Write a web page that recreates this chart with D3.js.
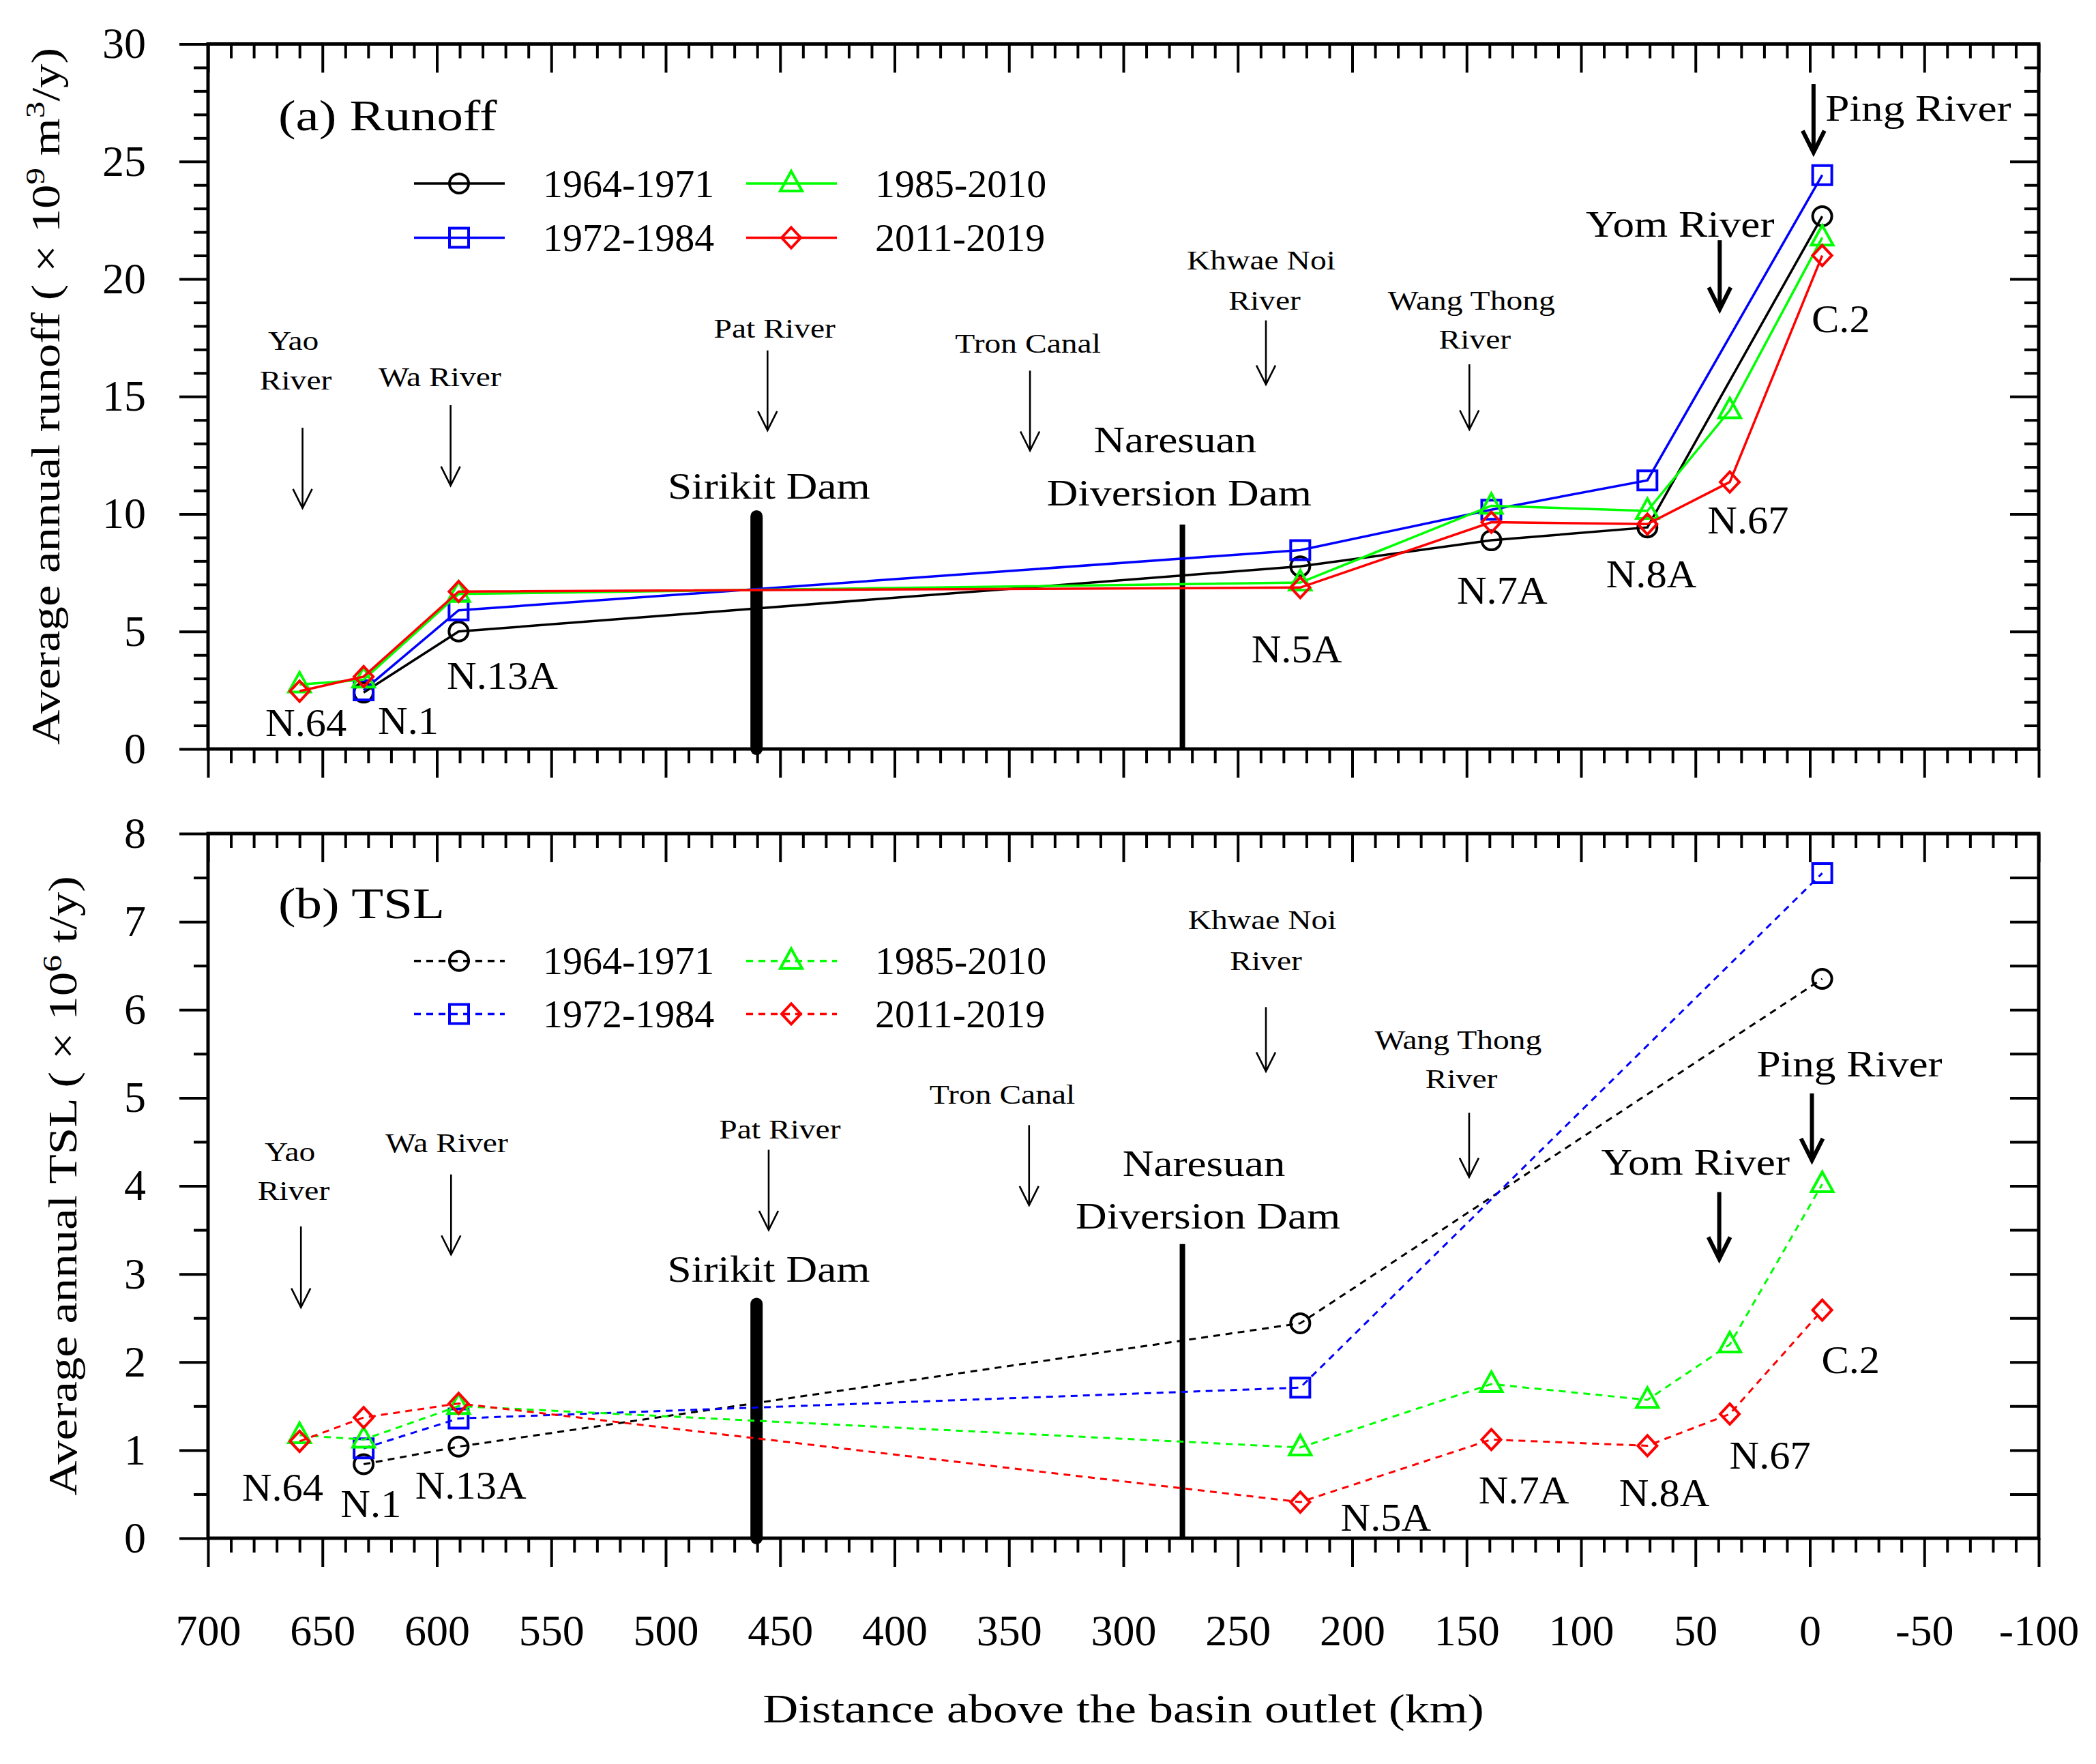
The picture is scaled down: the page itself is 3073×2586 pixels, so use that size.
<!DOCTYPE html>
<html>
<head>
<meta charset="utf-8">
<script src="https://cdn.jsdelivr.net/npm/d3@7"></script>
<style>
  body { margin: 0; background: #fff; }
  svg { display: block; }
  text { font-family: 'Liberation Serif', 'Times New Roman', serif; fill: #000; }
</style>
</head>
<body>
<div id="chart"></div>
<script>
// ---- data ----
const stationNames = ['N.64', 'N.1', 'N.13A', 'N.5A', 'N.7A', 'N.8A', 'N.67', 'C.2']
const stationKm = [660, 632, 590.5, 222.7, 139.2, 71, 35, -5.4]
const periods = ['1964-1971', '1972-1984', '1985-2010', '2011-2019']

// runoff (x 10^9 m3/y), null = no record
const runoff1964 = [null, 2.4, 5.0, 7.77, 8.88, 9.43, null, 22.67]
const runoff1972 = [null, 2.5, 5.9, 8.46, 10.18, 11.43, null, 24.42]
const runoff1985 = [2.74, 2.95, 6.6, 7.08, 10.35, 10.13, 14.41, 21.76]
const runoff2011 = [2.46, 3.08, 6.7, 6.87, 9.65, 9.57, 11.36, 21.0]

// TSL (x 10^6 t/y)
const tsl1964 = [null, 0.84, 1.04, 2.44, null, null, null, 6.35]
const tsl1972 = [null, 1.02, 1.36, 1.71, null, null, null, 7.55]
const tsl1985 = [1.17, 1.12, 1.5, 1.03, 1.75, 1.57, 2.2, 4.02]
const tsl2011 = [1.1, 1.37, 1.53, 0.41, 1.12, 1.05, 1.41, 2.59]

const xTicks = d3.range(700, -101, -50)
const dams = ['Sirikit Dam', 'Naresuan Diversion Dam']
const damKm = [460.3, 274.2]

// ---- layout ----
const W = 3073
const H = 2586
const colors = ['#000000', '#0000ff', '#00ff00', '#ff0000']
const shapes = ['circle', 'square', 'triangle', 'diamond']

const svg = d3.select('#chart').append('svg')
  .attr('width', W)
  .attr('height', H)

const x = d3.scaleLinear().domain([700, -100]).range([305, 2989])

// text helper: Palatino-like width from a stretched serif
function label (g, str, px, py, size, sx, anchor) {
  return g.append('text')
    .attr('transform', 'translate(' + px + ',' + py + ') scale(' + sx + ',1)')
    .attr('text-anchor', anchor || 'middle')
    .attr('dy', '0.34em')
    .style('font-size', size + 'px')
    .text(str)
}

function markerPath (shape) {
  const p = d3.path()
  if (shape === 'circle') {
    p.moveTo(14, 0)
    p.arc(0, 0, 14, 0, 2 * Math.PI)
  } else if (shape === 'square') {
    p.rect(-14, -14, 28, 28)
  } else if (shape === 'triangle') {
    p.moveTo(0, -18); p.lineTo(16, 11); p.lineTo(-16, 11); p.closePath()
  } else {
    p.moveTo(0, -15); p.lineTo(14, 0); p.lineTo(0, 15); p.lineTo(-14, 0); p.closePath()
  }
  return p.toString()
}

function arrow (g, km, v1, v2, y, thick) {
  const px = x(km)
  const y1 = y(v1)
  const y2 = y(v2)
  const hw = thick ? 16 : 14
  const hl = thick ? 32 : 28
  const sw = thick ? 6 : 2.6
  g.append('line')
    .attr('x1', px).attr('x2', px)
    .attr('y1', y1).attr('y2', y2 - 2)
    .attr('stroke', '#000').attr('stroke-width', sw)
  g.append('path')
    .attr('d', 'M' + (px - hw) + ',' + (y2 - hl) + 'L' + px + ',' + y2 + 'L' + (px + hw) + ',' + (y2 - hl))
    .attr('fill', 'none').attr('stroke', '#000').attr('stroke-width', sw)
}

function drawPanel (cfg) {
  const y = cfg.y
  const g = svg.append('g')
  const [y0, y1] = y.range()
  const xMinor = d3.range(700, -101, -10).filter(d => d % 50 !== 0)

  // frame
  g.append('rect')
    .attr('x', x(700)).attr('y', y1)
    .attr('width', x(-100) - x(700)).attr('height', y0 - y1)
    .attr('fill', 'none').attr('stroke', '#000').attr('stroke-width', 5)

  const axes = [
    ['bottom', d3.axisBottom(x).tickValues(xTicks).tickSize(42)
      .tickFormat(cfg.xLabels ? d => String(d) : '').tickPadding(70), 'translate(0,' + y0 + ')'],
    ['bottom', d3.axisBottom(x).tickValues(xMinor).tickSize(21).tickFormat(''), 'translate(0,' + y0 + ')'],
    ['top', d3.axisTop(x).tickValues(xTicks).tickSize(-42).tickFormat(''), 'translate(0,' + y1 + ')'],
    ['top', d3.axisTop(x).tickValues(xMinor).tickSize(-21).tickFormat(''), 'translate(0,' + y1 + ')'],
    ['left', d3.axisLeft(y).tickValues(cfg.yMajor).tickSize(42).tickPadding(49)
      .tickFormat(d => String(d)), 'translate(' + x(700) + ',0)'],
    ['left', d3.axisLeft(y).tickValues(cfg.yMinor).tickSize(21).tickFormat(''), 'translate(' + x(700) + ',0)'],
    ['right', d3.axisRight(y).tickValues(cfg.yMajor).tickSize(-42).tickFormat(''), 'translate(' + x(-100) + ',0)'],
    ['right', d3.axisRight(y).tickValues(cfg.yMinor).tickSize(cfg.rightMinorLong ? -42 : -21).tickFormat(''), 'translate(' + x(-100) + ',0)']
  ]
  axes.forEach(([, ax, tr]) => {
    const a = g.append('g').attr('transform', tr).call(ax.tickSizeOuter(0))
    a.attr('font-size', null).attr('font-family', null)
    a.select('.domain').remove()
    a.selectAll('.tick line').attr('stroke', '#000').attr('stroke-width', 4)
    a.selectAll('.tick text').style('font-size', '64px').attr('fill', '#000')
  })

  // dams
  g.append('line')
    .attr('x1', x(damKm[0])).attr('x2', x(damKm[0]))
    .attr('y1', y(cfg.damTop[0]) + 9).attr('y2', y0)
    .attr('stroke', '#000').attr('stroke-width', 18).attr('stroke-linecap', 'round')
  g.append('line')
    .attr('x1', x(damKm[1])).attr('x2', x(damKm[1]))
    .attr('y1', y(cfg.damTop[1])).attr('y2', y0)
    .attr('stroke', '#000').attr('stroke-width', 8)

  // series
  const line = d3.line().x(d => x(d.km)).y(d => y(d.v))
  cfg.series.forEach((vals, i) => {
    const pts = vals.map((v, j) => ({ km: stationKm[j], v: v })).filter(d => d.v !== null)
    g.append('path')
      .datum(pts)
      .attr('d', line)
      .attr('fill', 'none')
      .attr('stroke', colors[i])
      .attr('stroke-width', cfg.dash ? 3 : 3.5)
      .attr('stroke-dasharray', cfg.dash)
    g.selectAll(null)
      .data(pts)
      .join('path')
      .attr('transform', d => 'translate(' + x(d.km) + ',' + y(d.v) + ')')
      .attr('d', markerPath(shapes[i]))
      .attr('fill', 'none')
      .attr('stroke', colors[i])
      .attr('stroke-width', 4)
  })

  // legend: two columns, two rows
  const legendCols = [607, 1094]
  const legendOrder = [[0, 0, 0], [1, 0, 1], [2, 1, 0], [3, 1, 1]]
  legendOrder.forEach(([i, col, row]) => {
    const lx = legendCols[col]
    const ly = cfg.legendY[row]
    g.append('line')
      .attr('x1', lx).attr('x2', lx + 133)
      .attr('y1', ly).attr('y2', ly)
      .attr('stroke', colors[i]).attr('stroke-width', 3.5)
      .attr('stroke-dasharray', cfg.dash)
    g.append('path')
      .attr('transform', 'translate(' + (lx + 66) + ',' + ly + ')')
      .attr('d', markerPath(shapes[i]))
      .attr('fill', 'none').attr('stroke', colors[i]).attr('stroke-width', 4)
    label(g, periods[i], lx + 189, ly, 58, 1, 'start')
  })

  // panel title
  label(g, cfg.title, x(669.3), y(cfg.titleV), 64, 1.2, 'start')

  // tributaries (small text + thin arrows)
  cfg.rivers.forEach(([t, km, v]) => label(g, t, x(km), y(v), 41, 1.16))
  cfg.arrows.forEach(([km, v1, v2]) => arrow(g, km, v1, v2, y, false))
  cfg.thickArrows.forEach(([km, v1, v2]) => arrow(g, km, v1, v2, y, true))
  cfg.bigLabels.forEach(([t, km, v, anchor]) => label(g, t, x(km), y(v), 55, 1.15, anchor))
  cfg.stations.forEach(([km, v], j) => label(g, stationNames[j], x(km), y(v), 56, 1.08))
}

drawPanel({
  y: d3.scaleLinear().domain([0, 30]).range([1098, 64.5]),
  yMajor: d3.range(0, 31, 5),
  yMinor: d3.range(0, 31, 1).filter(d => d % 5 !== 0),
  rightMinorLong: false,
  xLabels: false,
  dash: null,
  series: [runoff1964, runoff1972, runoff1985, runoff2011],
  damTop: [10.16, 9.55],
  legendY: [269, 348.5],
  title: '(a) Runoff',
  titleV: 26.97,
  rivers: [
    ['Yao', 662.7, 17.39], ['River', 661.7, 15.69], ['Wa River', 598.7, 15.86],
    ['Pat River', 452.4, 17.92], ['Tron Canal', 341.7, 17.28],
    ['Khwae Noi', 239.8, 20.8], ['River', 238.3, 19.1],
    ['Wang Thong', 147.9, 19.1], ['River', 146.4, 17.43]
  ],
  arrows: [[658.7, 13.67, 10.25], [594, 14.63, 11.21], [455.5, 16.96, 13.56],
    [340.8, 16.1, 12.7], [237.7, 18.24, 15.51], [148.8, 16.37, 13.6]],
  thickArrows: [[39.4, 21.65, 18.71], [-1.6, 28.3, 25.38]],
  bigLabels: [
    ['Yom River', 56.7, 22.35, 'middle'], ['Ping River', -6.8, 27.29, 'start'],
    ['Sirikit Dam', 454.9, 11.21, 'middle'], ['Naresuan', 277.4, 13.18, 'middle'],
    ['Diversion Dam', 275.6, 10.9, 'middle']
  ],
  stations: [[657.2, 1.1], [612.5, 1.2], [571.4, 3.12], [224.3, 4.25],
    [134.5, 6.74], [69.3, 7.42], [27, 9.72], [-13.5, 18.3]]
})

drawPanel({
  y: d3.scaleLinear().domain([0, 8]).range([2255, 1222]),
  yMajor: d3.range(0, 9, 1),
  yMinor: d3.range(0.5, 8, 1),
  rightMinorLong: true,
  xLabels: true,
  dash: '10,8',
  series: [tsl1964, tsl1972, tsl1985, tsl2011],
  damTop: [2.73, 3.34],
  legendY: [1408.7, 1486.4],
  title: '(b) TSL',
  titleV: 7.21,
  rivers: [
    ['Yao', 664.2, 4.39], ['River', 662.6, 3.95], ['Wa River', 595.7, 4.49],
    ['Pat River', 450.1, 4.65], ['Tron Canal', 352.9, 5.04],
    ['Khwae Noi', 239.3, 7.02], ['River', 237.7, 6.56],
    ['Wang Thong', 153.7, 5.66], ['River', 152.3, 5.22]
  ],
  arrows: [[659.4, 3.54, 2.62], [593.8, 4.13, 3.22], [455, 4.41, 3.5],
    [341.2, 4.69, 3.78], [237.7, 6.03, 5.3], [148.9, 4.83, 4.1]],
  thickArrows: [[39.6, 3.93, 3.17], [-0.9, 5.05, 4.29]],
  bigLabels: [
    ['Yom River', 50, 4.27, 'middle'], ['Ping River', -17.3, 5.39, 'middle'],
    ['Sirikit Dam', 455, 3.06, 'middle'], ['Naresuan', 264.8, 4.26, 'middle'],
    ['Diversion Dam', 263, 3.66, 'middle']
  ],
  stations: [[667.4, 0.57], [628.8, 0.39], [585.2, 0.6], [185.3, 0.23],
    [125, 0.54], [63.6, 0.51], [17.4, 0.94], [-17.8, 2.02]]
})

// axis titles
function yTitle (parts, cx, cy) {
  const t = svg.append('text')
    .attr('transform', 'translate(' + cx + ',' + cy + ') rotate(-90) scale(1.2,1)')
    .attr('text-anchor', 'middle')
    .attr('dy', '0.34em')
    .style('font-size', '59px')
  parts.forEach(([s, sup]) => {
    t.append('tspan')
      .attr('dy', sup ? -22 : (t.property('lastSup') ? 22 : 0))
      .style('font-size', sup ? '41px' : null)
      .text(s)
    t.property('lastSup', sup)
  })
}
yTitle([['Average annual runoff ( \u00d7 10', false], ['9', true], [' m', false], ['3', true], ['/y)', false]], 87, 581)
yTitle([['Average annual TSL ( \u00d7 10', false], ['6', true], [' t/y)', false]], 112, 1738.5)

label(svg, 'Distance above the basin outlet (km)', x(300), 2505, 60, 1.2)
</script>
</body>
</html>
